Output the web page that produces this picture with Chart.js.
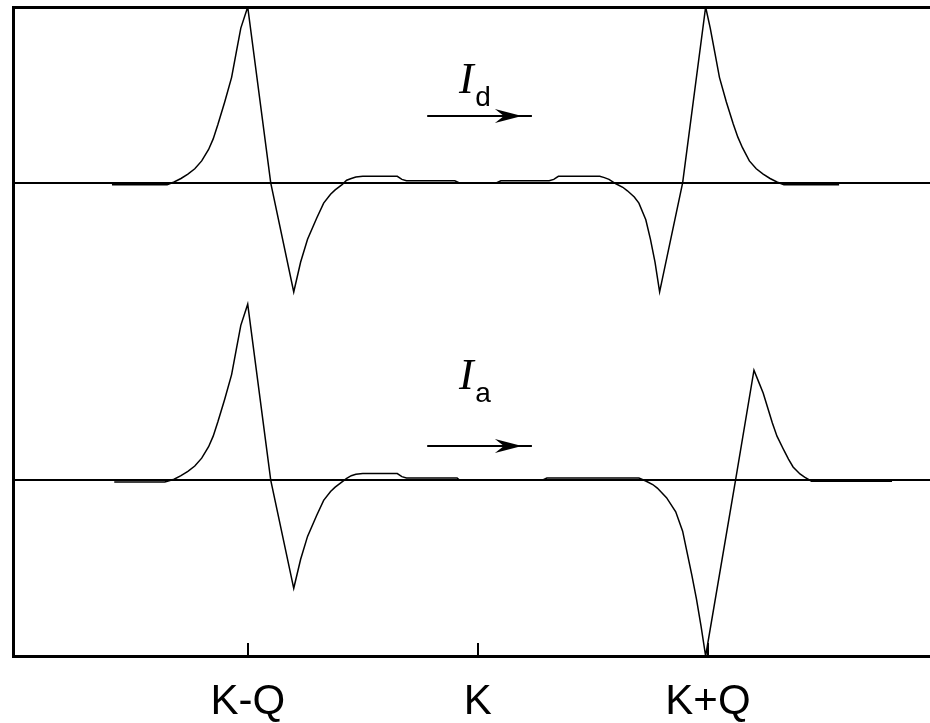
<!DOCTYPE html>
<html lang="en">
<head>
<meta charset="UTF-8">
<title>I_d / I_a</title>
<script src="https://cdn.jsdelivr.net/npm/chart.js@4.4.1/dist/chart.umd.min.js"></script>
<style>
  html, body { margin: 0; padding: 0; background: #fff; }
  #chart { display: block; }
</style>
</head>
<body>
<canvas id="chart" width="930" height="723"></canvas>
<script>
// x in units of Q/100 : K-Q = -100, K = 0, K+Q = 100
const tickValues = [-100, 0, 100];
const tickLabels = ['K-Q', 'K', 'K+Q'];

// upper trace I_d (deviation from its baseline, peak = 1)
const idX = [
  -159, -135, -132, -129, -126, -123, -120, -117, -115, -113, -110, -107, -105, -103, -100,
  -90, -80, -77, -74, -70, -67, -64, -62, -59, -57, -55, -53, -50,
  -35, -33, -31, -10, -8,
  8, 10, 31, 33, 35, 53, 55, 57, 60, 63, 65, 68, 70, 73, 75, 77, 79,
  89, 99, 101, 103, 105, 108, 111, 113, 115, 118, 121, 124, 127, 130, 133, 157];
const idY = [
  -0.01, -0.01, 0.005, 0.025, 0.05, 0.08, 0.125, 0.19, 0.25, 0.33, 0.46, 0.6, 0.74, 0.88, 1.0,
  0, -0.62, -0.45, -0.32, -0.2, -0.115, -0.065, -0.04, -0.01, 0.015, 0.025, 0.033, 0.037,
  0.037, 0.02, 0.012, 0.012, 0,
  0, 0.012, 0.012, 0.02, 0.037, 0.037, 0.03, 0.02, -0.005, -0.025, -0.045, -0.08, -0.115, -0.21, -0.32, -0.45, -0.62,
  0, 1.0, 0.88, 0.74, 0.6, 0.46, 0.335, 0.26, 0.2, 0.125, 0.08, 0.05, 0.025, 0.005, -0.01, -0.01];

// lower trace I_a
const iaX = [
  -158, -136, -132, -129, -126, -123, -120, -117, -115, -113, -110, -107, -105, -103, -100,
  -90, -80, -77, -74, -70, -67, -64, -62, -59, -57, -55, -53, -50,
  -35, -33, -31, -9, -8,
  28, 30, 70, 73, 76, 78, 82, 86, 89, 91, 93, 95, 97, 99,
  112, 120, 122, 124, 126, 128, 130, 133, 135, 137, 140, 142, 145, 180];
const iaY = [
  -0.01, -0.01, 0.005, 0.025, 0.05, 0.08, 0.125, 0.19, 0.25, 0.33, 0.46, 0.6, 0.74, 0.88, 1.0,
  0, -0.615, -0.45, -0.32, -0.2, -0.115, -0.065, -0.04, -0.01, 0.01, 0.025, 0.033, 0.037,
  0.037, 0.02, 0.012, 0.012, 0,
  0, 0.012, 0.012, -0.005, -0.025, -0.045, -0.1, -0.18, -0.29, -0.415, -0.54, -0.675, -0.83, -1.0,
  0, 0.625, 0.56, 0.495, 0.41, 0.325, 0.25, 0.17, 0.12, 0.075, 0.035, 0.017, -0.006, -0.006];

const idOffset = 1.69;
const iaOffset = 0;

const xMin = -202, xMax = 196.5;
const yMin = -1, yMax = 2.69;

function toPoints(xs, ys, off) {
  return xs.map((x, i) => ({ x: x, y: ys[i] + off }));
}

// labels + arrows, in data units
const notes = [
  { sub: 'd', x: -5, y: idOffset + 0.51, ax0: -22, ax1: 23.5, ay: idOffset + 0.378 },
  { sub: 'a', x: -5, y: iaOffset + 0.52, ax0: -22, ax1: 23.5, ay: iaOffset + 0.193 }
];

const extras = {
  id: 'extras',
  afterDraw(chart) {
    const ctx = chart.ctx;
    const xs = chart.scales.x, ys = chart.scales.y;
    const area = chart.chartArea;
    ctx.save();
    ctx.strokeStyle = '#000';
    ctx.fillStyle = '#000';

    // inward tick marks
    ctx.lineWidth = 2;
    tickValues.forEach(v => {
      const px = Math.round(xs.getPixelForValue(v));
      ctx.beginPath();
      ctx.moveTo(px, area.bottom);
      ctx.lineTo(px, area.bottom - 13);
      ctx.stroke();
    });

    notes.forEach(n => {
      const px = xs.getPixelForValue(n.x), py = ys.getPixelForValue(n.y);
      ctx.textBaseline = 'alphabetic';
      ctx.textAlign = 'center';
      ctx.font = 'italic 44px "Liberation Serif"';
      ctx.fillText('I', px, py);
      ctx.textAlign = 'left';
      ctx.font = '28px "Liberation Sans"';
      ctx.fillText(n.sub, px + 9, py + 13);

      const x0 = xs.getPixelForValue(n.ax0), x1 = xs.getPixelForValue(n.ax1);
      const ay = Math.round(ys.getPixelForValue(n.ay));
      ctx.lineWidth = 2;
      ctx.beginPath();
      ctx.moveTo(x0, ay);
      ctx.lineTo(x1, ay);
      ctx.stroke();
      const tip = x1 - 10, back = x1 - 37;
      ctx.beginPath();
      ctx.moveTo(tip, ay);
      ctx.lineTo(back, ay - 7);
      ctx.lineTo(back + 9, ay);
      ctx.lineTo(back, ay + 7);
      ctx.closePath();
      ctx.fill();
    });
    ctx.restore();
  }
};

const lineStyle = {
  borderColor: '#000',
  pointRadius: 0,
  fill: false,
  tension: 0
};

new Chart(document.getElementById('chart'), {
  type: 'line',
  data: {
    datasets: [
      { label: 'base d', data: [{ x: xMin, y: idOffset }, { x: xMax, y: idOffset }], borderColor: '#000', borderWidth: 2, pointRadius: 0 },
      { label: 'base a', data: [{ x: xMin, y: iaOffset }, { x: xMax, y: iaOffset }], borderColor: '#000', borderWidth: 2, pointRadius: 0 },
      Object.assign({ label: 'I_d', data: toPoints(idX, idY, idOffset), borderWidth: 1.5 }, lineStyle),
      Object.assign({ label: 'I_a', data: toPoints(iaX, iaY, iaOffset), borderWidth: 1.5 }, lineStyle)
    ]
  },
  options: {
    responsive: false,
    animation: false,
    layout: { padding: 0 },
    plugins: { legend: { display: false }, tooltip: { enabled: false } },
    scales: {
      x: {
        type: 'linear',
        position: 'bottom',
        min: xMin,
        max: xMax,
        afterBuildTicks: s => { s.ticks = tickValues.map(v => ({ value: v })); },
        afterFit: s => { s.height = 67; },
        ticks: {
          autoSkip: false,
          maxRotation: 0,
          padding: 21,
          color: '#000',
          font: { family: '"Liberation Sans", Arial, sans-serif', size: 42 },
          callback: v => tickLabels[tickValues.indexOf(v)]
        },
        grid: { display: false, drawTicks: false },
        border: { display: true, color: '#000', width: 3 }
      },
      x2: {
        type: 'linear',
        position: 'top',
        min: xMin,
        max: xMax,
        afterFit: s => { s.height = 7; },
        ticks: { display: false },
        grid: { display: false, drawTicks: false },
        border: { display: true, color: '#000', width: 3 }
      },
      y: {
        type: 'linear',
        min: yMin,
        max: yMax,
        afterFit: s => { s.width = 13; },
        ticks: { display: false },
        grid: { display: false, drawTicks: false },
        border: { display: true, color: '#000', width: 3 }
      }
    }
  },
  plugins: [extras]
});
</script>
</body>
</html>
